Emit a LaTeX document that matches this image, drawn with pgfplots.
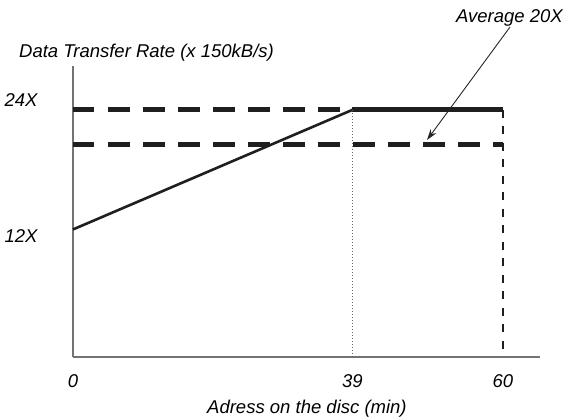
\documentclass[border=0pt]{standalone}
\usepackage{pgfplots}
\pgfplotsset{compat=1.18}
\usetikzlibrary{arrows.meta}
\usepackage{fontspec}
\setmainfont{Liberation Sans}
\newcommand{\lblfont}{\fontsize{18.5bp}{22bp}\selectfont\itshape}
\begin{document}
\begin{tikzpicture}[x=1bp,y=1bp]
\useasboundingbox (-73,-61) rectangle (491,357);
\begin{axis}[at={(0,0)}, anchor=south west, scale only axis,
  width=467bp, height=291bp,
  xmin=0, xmax=65.17, ymin=-0.8, ymax=28.4,
  axis x line*=bottom, axis y line*=left,
  axis line style={draw=black!55, line width=1.3bp, -},
  xtick={0,39,60}, xticklabels={0,39,60},
  ytick={10.7,24.3}, yticklabels={12X,24X},
  major tick length=0,
  tick label style={font=\lblfont},
  xticklabel style={anchor=base, yshift=-30bp},
  yticklabel style={anchor=base east, xshift=-32bp},
  clip=false]
\addplot[draw=black!88, line width=2.6bp] coordinates {(0,12) (39,24)};
\addplot[draw=black!88, line width=5bp, dash pattern=on 21.5bp off 13.5bp] coordinates {(0,24) (39,24)};
\addplot[draw=black!88, line width=5bp] coordinates {(39,24) (60,24)};
\addplot[draw=black!88, line width=5bp, dash pattern=on 21.5bp off 13.5bp] coordinates {(0,20.5) (60,20.5)};
\addplot[draw=black!88, line width=2.7bp, dash pattern=on 8bp off 8.5bp] coordinates {(60,24) (60,-0.8)};
\addplot[draw=black!60, line width=1bp, dash pattern=on 1.5bp off 1.5bp] coordinates {(39,24) (39,-0.8)};
\end{axis}
\draw[-{Stealth[length=11bp,width=7bp]}, line width=0.9bp, black!85] (437,330) -- (354,217);
\node[anchor=base east, inner sep=0pt, font=\lblfont] at (490,335) {Average 20X};
\node[anchor=base west, inner sep=0pt, font=\lblfont] at (-54,300) {Data Transfer Rate (x 150kB/s)};
\node[anchor=base west, inner sep=0pt, font=\lblfont] at (134,-56) {Adress on the disc (min)};
\end{tikzpicture}
\end{document}
